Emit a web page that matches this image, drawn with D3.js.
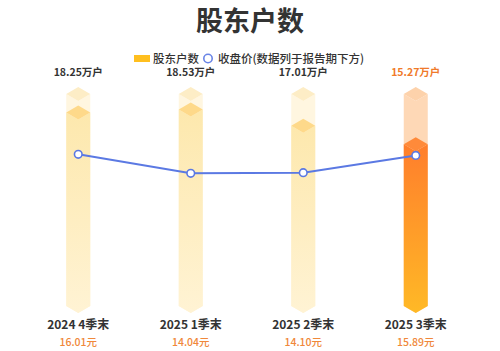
<!DOCTYPE html>
<html>
<head>
<meta charset="utf-8">
<script src="https://cdn.jsdelivr.net/npm/d3@7"></script>
<style>
  body { margin: 0; background: #fff; }
  svg text { font-family: "Noto Sans CJK SC", "Noto Sans", sans-serif; }
</style>
</head>
<body>
<svg id="chart" width="500" height="351"></svg>
<script>
// data
var periods = ["2024 4季末", "2025 1季末", "2025 2季末", "2025 3季末"];
var holders = [18.25, 18.53, 17.01, 15.27];      // 万户
var prices = [16.01, 14.04, 14.10, 15.89];       // 元
var holderLabels = ["18.25万户", "18.53万户", "17.01万户", "15.27万户"];
var priceLabels = ["16.01元", "14.04元", "14.10元", "15.89元"];
var holderMax = 20;

var svg = d3.select("#chart");
var width = +svg.attr("width");

var x = d3.scaleBand()
  .domain(periods)
  .range([22, 472]);

var y = d3.scaleLinear()
  .domain([0, holderMax])
  .range([306, 94]);

var yPrice = d3.scaleLinear()
  .domain([0, 22])
  .range([308.7, 96.5]);

var barW = 24, cap = 7;
var last = periods.length - 1;

var defs = svg.append("defs");

var gHi = defs.append("linearGradient").attr("id", "gHi")
  .attr("x1", 0).attr("y1", 0).attr("x2", 0).attr("y2", 1);
gHi.append("stop").attr("offset", "0%").attr("stop-color", "#ff7e2c");
gHi.append("stop").attr("offset", "100%").attr("stop-color", "#ffb926");

var gLo = defs.append("linearGradient").attr("id", "gLo")
  .attr("x1", 0).attr("y1", 0).attr("x2", 0).attr("y2", 1);
gLo.append("stop").attr("offset", "0%").attr("stop-color", "#fde8ad");
gLo.append("stop").attr("offset", "100%").attr("stop-color", "#fff3d4");

function cx(d) { return x(d) + x.bandwidth() / 2; }

function bodyPath(xc, yc) {
  var x0 = xc - barW / 2, x1 = xc + barW / 2, yb = y(0);
  return "M" + x0 + "," + yc + "L" + xc + "," + (yc + cap) + "L" + x1 + "," + yc +
    "L" + x1 + "," + yb + "L" + xc + "," + (yb + cap) + "L" + x0 + "," + yb + "Z";
}

function topPath(xc, yc) {
  var x0 = xc - barW / 2, x1 = xc + barW / 2;
  return "M" + x0 + "," + yc + "L" + xc + "," + (yc - cap) + "L" + x1 + "," + yc +
    "L" + xc + "," + (yc + cap) + "Z";
}

// title
svg.append("text")
  .attr("x", width / 2).attr("y", 31)
  .attr("text-anchor", "middle")
  .attr("font-size", 27).attr("font-weight", "bold")
  .attr("fill", "#333")
  .text("股东户数");

// legend
var legend = svg.append("g");
legend.append("rect")
  .attr("x", 134).attr("y", 55).attr("width", 16).attr("height", 7)
  .attr("fill", "#ffbf1f");
legend.append("text")
  .attr("x", 153).attr("y", 62.5)
  .attr("font-size", 11.5).attr("font-weight", 500).attr("fill", "#333")
  .text("股东户数");
legend.append("circle")
  .attr("cx", 208).attr("cy", 58.5).attr("r", 4.2)
  .attr("fill", "#fff").attr("stroke", "#6a85e6").attr("stroke-width", 1.6);
legend.append("text")
  .attr("x", 218).attr("y", 62.5)
  .attr("font-size", 11.5).attr("font-weight", 500).attr("fill", "#333")
  .text("收盘价(数据列于报告期下方)");

// bars
var bars = svg.append("g").selectAll("g")
  .data(periods)
  .enter().append("g");

// background column
bars.append("path")
  .attr("d", function(d) { return bodyPath(cx(d), y(holderMax)); })
  .attr("fill", function(d, i) { return i === last ? "#fed8b6" : "#fff6e0"; });
bars.append("path")
  .attr("d", function(d) { return topPath(cx(d), y(holderMax)); })
  .attr("fill", function(d, i) { return i === last ? "#fdd2ab" : "#fdedc6"; });

// value column
bars.append("path")
  .attr("d", function(d, i) { return bodyPath(cx(d), y(holders[i])); })
  .attr("fill", function(d, i) { return i === last ? "url(#gHi)" : "url(#gLo)"; });
bars.append("path")
  .attr("d", function(d, i) { return topPath(cx(d), y(holders[i])); })
  .attr("fill", function(d, i) { return i === last ? "#ff8a3a" : "#fed98a"; });

// value labels
bars.append("text")
  .attr("x", function(d) { return cx(d); })
  .attr("y", 76)
  .attr("text-anchor", "middle")
  .attr("font-size", 10.5).attr("font-weight", "bold")
  .attr("fill", function(d, i) { return i === last ? "#f07a2a" : "#333"; })
  .text(function(d, i) { return holderLabels[i]; });

// period labels
bars.append("text")
  .attr("x", function(d) { return cx(d); })
  .attr("y", 329)
  .attr("text-anchor", "middle")
  .attr("font-size", 12).attr("font-weight", "bold")
  .attr("fill", "#333")
  .text(function(d) { return d; });

bars.append("text")
  .attr("x", function(d) { return cx(d); })
  .attr("y", 346)
  .attr("text-anchor", "middle")
  .attr("font-size", 10.5).attr("font-weight", 500)
  .attr("fill", "#f0883a")
  .text(function(d, i) { return priceLabels[i]; });

// price line
var line = d3.line()
  .x(function(d, i) { return cx(periods[i]); })
  .y(function(d) { return yPrice(d); });

svg.append("path")
  .datum(prices)
  .attr("d", line)
  .attr("fill", "none")
  .attr("stroke", "#5b79e3")
  .attr("stroke-width", 2);

svg.append("g").selectAll("circle")
  .data(prices)
  .enter().append("circle")
  .attr("cx", function(d, i) { return cx(periods[i]); })
  .attr("cy", function(d) { return yPrice(d); })
  .attr("r", 3.8)
  .attr("fill", "#fff")
  .attr("stroke", "#5b79e3")
  .attr("stroke-width", 1.6);
</script>
</body>
</html>
